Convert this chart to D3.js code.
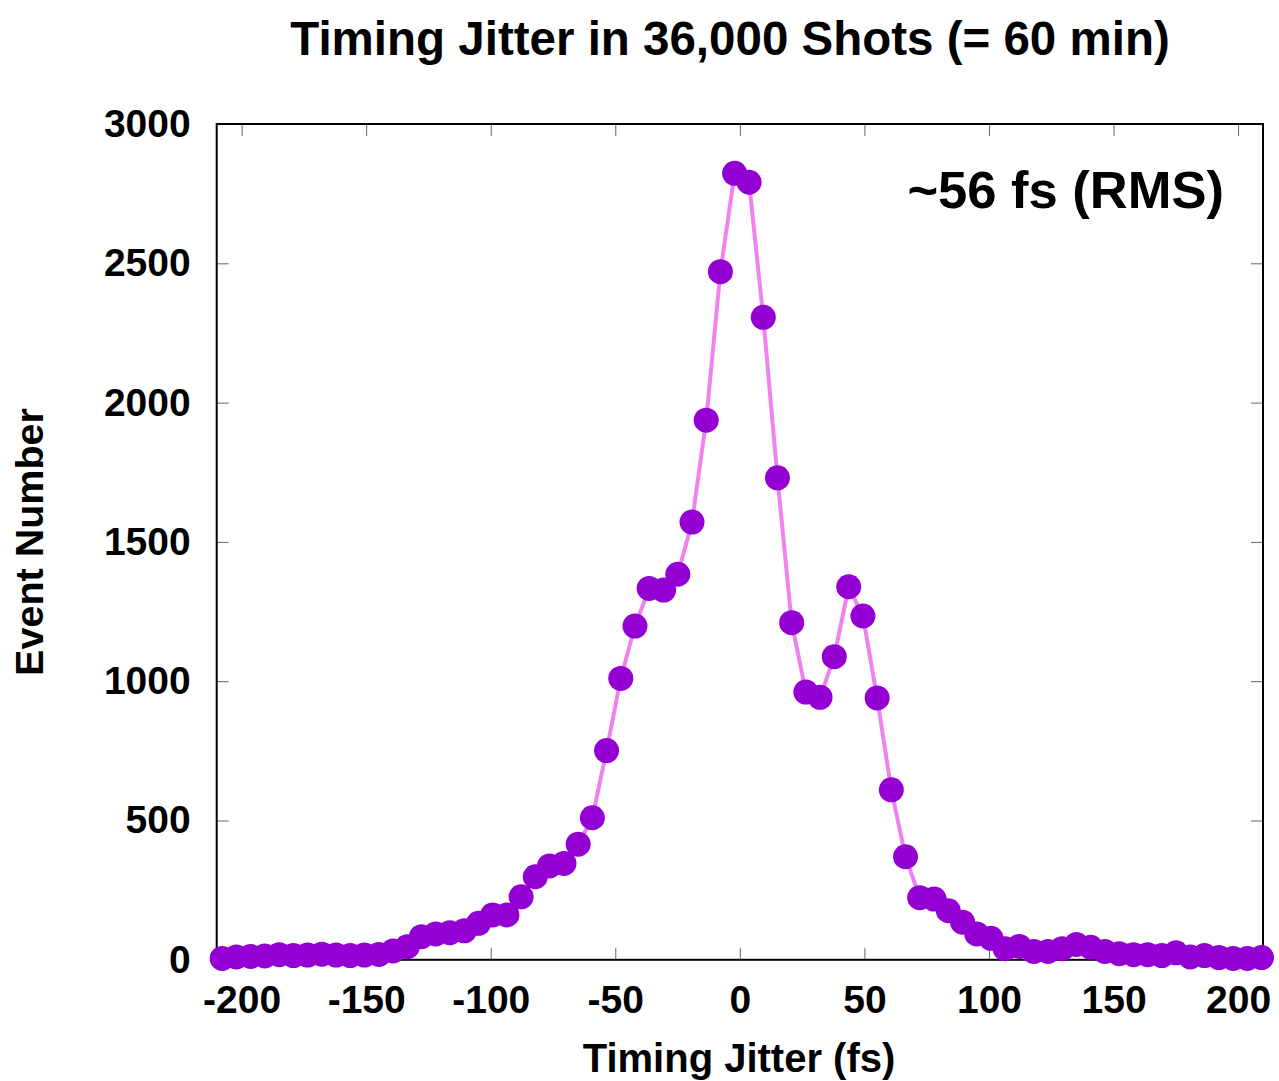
<!DOCTYPE html>
<html>
<head>
<meta charset="utf-8">
<script src="https://cdn.jsdelivr.net/npm/d3@7"></script>
<style>
  html, body { margin: 0; padding: 0; background: #fff; }
  svg { display: block; font-family: "Liberation Sans", Arial, Helvetica, sans-serif; font-weight: bold; }
</style>
</head>
<body>
<svg id="chart" width="1279" height="1081"></svg>
<script>
// Histogram of shot-to-shot timing jitter (bin centres in fs, counts per bin)
const jitterFs = [
  -207.8, -202.1, -196.4, -190.7, -184.9, -179.2, -173.5, -167.8, -162.1, -156.4,
  -150.7, -144.9, -139.2, -133.5, -127.8, -122.1, -116.4, -110.6, -104.9, -99.2,
  -93.5, -87.8, -82.1, -76.4, -70.6, -64.9, -59.2, -53.5, -47.8, -42.1,
  -36.4, -30.6, -24.9, -19.2, -13.5, -7.8, -2.1, 3.7, 9.4, 15.1,
  20.8, 26.5, 32.2, 37.9, 43.7, 49.4, 55.1, 60.8, 66.5, 72.2,
  78.0, 83.7, 89.4, 95.1, 100.8, 106.5, 112.2, 118.0, 123.7, 129.4,
  135.1, 140.8, 146.5, 152.3, 158.0, 163.7, 169.4, 175.1, 180.8, 186.5,
  192.3, 198.0, 203.7, 209.4
];
const eventCounts = [
  5, 10, 12, 14, 18, 15, 17, 20, 17, 15,
  17, 19, 32, 47, 83, 93, 97, 104, 131, 161,
  161, 226, 298, 337, 346, 415, 510, 751, 1010, 1198,
  1333, 1327, 1384, 1571, 1937, 2470, 2823, 2791, 2306, 1730,
  1210, 961, 942, 1088, 1339, 1234, 940, 610, 370, 223,
  218, 176, 135, 93, 77, 40, 48, 30, 30, 40,
  55, 45, 30, 22, 18, 18, 15, 25, 10, 15,
  8, 5, 5, 8
];
const xTicks = [-200, -150, -100, -50, 0, 50, 100, 150, 200];
const yTicks = [0, 500, 1000, 1500, 2000, 2500, 3000];

const titleText = "Timing Jitter in 36,000 Shots (= 60 min)";
const xTitle = "Timing Jitter (fs)";
const yTitle = "Event Number";
const rmsNote = "~56 fs (RMS)";

const data = jitterFs.map((x, i) => ({ x, y: eventCounts[i] }));

const margin = { left: 216.7, top: 124, right: 16, bottom: 121.2 };
const W = 1279, H = 1081;
const pw = W - margin.left - margin.right;
const ph = H - margin.top - margin.bottom;

const svg = d3.select("#chart");
const g = svg.append("g").attr("transform", `translate(${margin.left},${margin.top})`);

const x = d3.scaleLinear().domain([-210, 210]).range([0, pw]);
const y = d3.scaleLinear().domain([0, 3000]).range([ph, 0]);

// plain hyphen-minus for negative tick labels
const plain = d => String(d);

const tickLen = 12;
function styleAxis(sel) {
  sel.select(".domain").remove();
  sel.selectAll(".tick line").attr("stroke", "#666").attr("stroke-width", 1);
  sel.selectAll("text").attr("fill", "#000").attr("font-size", 39).attr("font-weight", "bold")
    .attr("font-family", '"Liberation Sans", Arial, sans-serif');
}

// bottom axis with labels, ticks pointing inward
const xb = g.append("g").attr("transform", `translate(0,${ph})`)
  .call(d3.axisBottom(x).tickValues(xTicks).tickSize(-tickLen).tickPadding(26).tickFormat(plain));
styleAxis(xb);
// top mirror ticks
const xt = g.append("g")
  .call(d3.axisTop(x).tickValues(xTicks).tickSize(-tickLen).tickFormat(""));
styleAxis(xt);
// left axis with labels
const yl = g.append("g")
  .call(d3.axisLeft(y).tickValues(yTicks).tickSize(-tickLen).tickPadding(26).tickFormat(plain));
styleAxis(yl);
// right mirror ticks
const yr = g.append("g").attr("transform", `translate(${pw},0)`)
  .call(d3.axisRight(y).tickValues(yTicks).tickSize(-tickLen).tickFormat(""));
styleAxis(yr);

// plot frame
g.append("rect").attr("x", 0).attr("y", 0).attr("width", pw).attr("height", ph)
  .attr("fill", "none").attr("stroke", "#000").attr("stroke-width", 2);

// connecting line
const line = d3.line().x(d => x(d.x)).y(d => y(d.y));
g.append("path").datum(data)
  .attr("d", line)
  .attr("fill", "none")
  .attr("stroke", "#ee82ee")
  .attr("stroke-width", 4)
  .attr("stroke-linejoin", "round");

// markers
g.append("g").selectAll("circle").data(data).join("circle")
  .attr("cx", d => x(d.x))
  .attr("cy", d => y(d.y))
  .attr("r", 12.5)
  .attr("fill", "#9400d3");

// titles and note
svg.append("text").attr("x", 730).attr("y", 55)
  .attr("text-anchor", "middle").attr("font-size", 47.5).text(titleText);

svg.append("text").attr("x", 739).attr("y", 1072)
  .attr("text-anchor", "middle").attr("font-size", 40).text(xTitle);

svg.append("text")
  .attr("transform", "translate(42.5,542) rotate(-90)")
  .attr("text-anchor", "middle").attr("font-size", 39.5).text(yTitle);

svg.append("text").attr("x", 1224).attr("y", 208)
  .attr("text-anchor", "end").attr("font-size", 52.5).text(rmsNote);
</script>
</body>
</html>
